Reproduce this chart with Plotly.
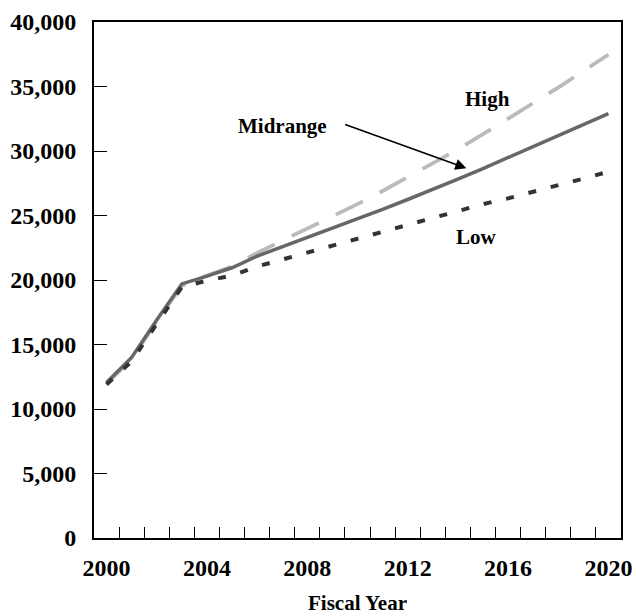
import plotly.graph_objects as go

years = list(range(2000, 2021))
high = [11950, 13850, 16800, 19550, 20350, 21050, 22100, 23030, 23970, 24920,
        25880, 26900, 27960, 29010, 30120, 31300, 32480, 33670, 34920, 36200, 37480]
midrange = [12050, 14000, 16900, 19700, 20300, 20950, 21850, 22570, 23280, 24000,
            24730, 25470, 26240, 27010, 27820, 28640, 29480, 30320, 31180, 32040, 32900]
low = [11900, 13700, 16600, 19450, 19950, 20350, 21050, 21580, 22110, 22640,
       23170, 23730, 24280, 24820, 25350, 25880, 26330, 26820, 27370, 27860, 28400]

x_label_vals = [2000, 2004, 2008, 2012, 2016, 2020]
x_labels = ["2000", "2004", "2008", "2012", "2016", "2020"]
y_tick_vals = [0, 5000, 10000, 15000, 20000, 25000, 30000, 35000, 40000]
y_tick_labels = ["0", "5,000", "10,000", "15,000", "20,000", "25,000", "30,000", "35,000", "40,000"]
minor_vals = [y + 0.5 for y in years[:-1]]

FONT = "Liberation Serif"

fig = go.Figure()
fig.add_trace(go.Scatter(x=years, y=high, mode="lines", name="High",
                         line=dict(color="#bbbbbb", width=3.8, dash="30px,19px")))
fig.add_trace(go.Scatter(x=years, y=midrange, mode="lines", name="Midrange",
                         line=dict(color="#676767", width=3.5)))
fig.add_trace(go.Scatter(x=years, y=low, mode="lines", name="Low",
                         line=dict(color="#333333", width=4, dash="8px,15px")))

fig.update_layout(
    width=636, height=616,
    margin=dict(l=94, r=15, t=22, b=78),
    plot_bgcolor="white", paper_bgcolor="white",
    showlegend=False,
    font=dict(family=FONT, size=24, color="black", weight="bold"),
)

fig.update_xaxes(
    range=[1999.5, 2020.5], automargin=False,
    tickmode="array", tickvals=x_label_vals, ticktext=x_labels,
    ticks="", ticklen=0,
    minor=dict(tickmode="array", tickvals=minor_vals, ticks="inside",
               ticklen=11, tickwidth=1.2, tickcolor="black", showgrid=False),
    showgrid=False, zeroline=False,
    showline=True, linecolor="black", linewidth=2, mirror=True,
    ticklabelstandoff=7,
    title=dict(text="Fiscal Year", font=dict(size=21, family=FONT, weight="bold"), standoff=16),
)
fig.update_yaxes(
    range=[0, 40000], automargin=False,
    tickmode="array", tickvals=y_tick_vals, ticktext=y_tick_labels,
    ticks="inside", ticklen=13, tickwidth=1.2, tickcolor="black",
    showgrid=False, zeroline=False,
    showline=True, linecolor="black", linewidth=2, mirror=True,
    ticklabelstandoff=11,
)

ann_font = dict(family=FONT, size=21, color="black", weight="bold")
fig.add_annotation(x=2015.17, y=34050, xref="x", yref="y", text="High",
                   showarrow=False, font=ann_font)
fig.add_annotation(x=2007.03, y=31950, xref="x", yref="y", text="Midrange",
                   showarrow=False, font=ann_font)
fig.add_annotation(x=2014.73, y=23350, xref="x", yref="y", text="Low",
                   showarrow=False, font=ann_font)
fig.add_annotation(x=2014.34, y=28660, ax=2009.45, ay=32100,
                   xref="x", yref="y", axref="x", ayref="y",
                   text="", showarrow=True, arrowhead=2, arrowsize=1.4,
                   arrowwidth=1.6, arrowcolor="black", standoff=0)

fig.write_html("out.html", config={"displayModeBar": False},
               post_script="document.body.style.margin='0';document.body.style.overflow='hidden';")
